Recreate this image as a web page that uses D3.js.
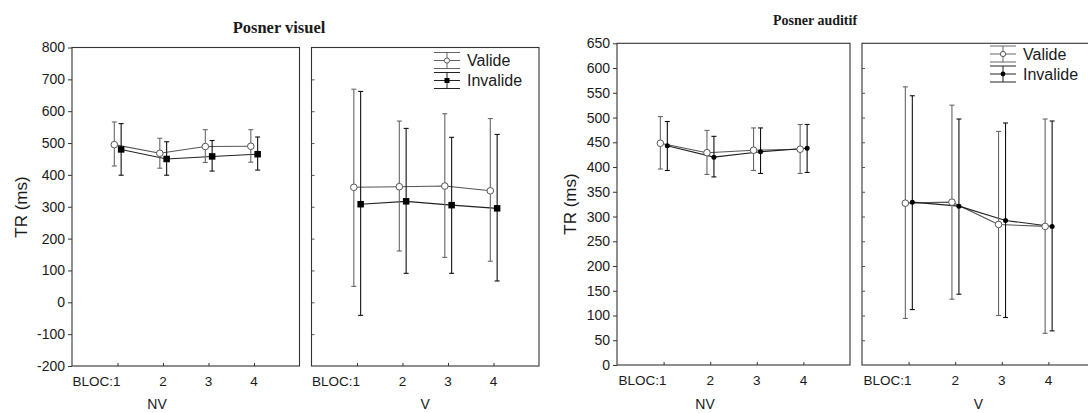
<!DOCTYPE html>
<html><head><meta charset="utf-8">
<script src="https://cdn.jsdelivr.net/npm/d3@7"></script>
<style>
html,body{margin:0;padding:0;background:#fff;}
svg{display:block;}
text{font-family:"Liberation Sans",Arial,sans-serif;fill:#1a1a1a;}
.title{font-family:"Liberation Serif","Times New Roman",serif;font-weight:bold;}
</style></head>
<body>
<svg id="c" width="1088" height="413"></svg>
<script>
// ---------- DATA ----------
const blocs = ["BLOC:1", "2", "3", "4"];
const seriesNames = ["Valide", "Invalide"];
const yTicksVisuel = [-200, -100, 0, 100, 200, 300, 400, 500, 600, 700, 800];
const yTicksAuditif = [0, 50, 100, 150, 200, 250, 300, 350, 400, 450, 500, 550, 600, 650];

// Posner visuel - NV
const visNVValide = [495, 468, 489, 490];
const visNVValideLo = [428, 421, 439, 440];
const visNVValideHi = [566, 515, 542, 542];
const visNVInvalide = [480, 450, 458, 465];
const visNVInvalideLo = [399, 399, 412, 415];
const visNVInvalideHi = [561, 504, 508, 519];
// Posner visuel - V
const visVValide = [361, 363, 365, 350];
const visVValideLo = [50, 161, 141, 129];
const visVValideHi = [669, 569, 592, 577];
const visVInvalide = [308, 317, 305, 295];
const visVInvalideLo = [-41, 91, 91, 67];
const visVInvalideHi = [662, 546, 518, 527];
// Posner auditif - NV
const audNVValide = [448, 429, 434, 436];
const audNVValideLo = [396, 385, 393, 387];
const audNVValideHi = [502, 474, 479, 486];
const audNVInvalide = [443, 420, 431, 438];
const audNVInvalideLo = [393, 380, 387, 389];
const audNVInvalideHi = [492, 462, 479, 486];
// Posner auditif - V
const audVValide = [327, 329, 284, 280];
const audVValideLo = [94, 133, 100, 64];
const audVValideHi = [562, 525, 472, 497];
const audVInvalide = [329, 321, 292, 280];
const audVInvalideLo = [112, 143, 96, 69];
const audVInvalideHi = [544, 497, 489, 493];

// ---------- DRAW ----------
const svg = d3.select("#c");

function mk(vals, lo, hi) { return vals.map((v, i) => ({i: i + 1, v, lo: lo[i], hi: hi[i]})); }

function panel(opt) {
  const g = svg.append("g");
  const x = d3.scaleLinear().domain([0, 5]).range([opt.x0, opt.x1]);
  const y = opt.y;
  const [yb, yt] = y.range();
  g.append("rect").attr("x", opt.x0).attr("y", yt).attr("width", opt.x1 - opt.x0).attr("height", yb - yt)
    .attr("fill", "none").attr("stroke", "#333").attr("stroke-width", 1.1);
  if (opt.first) {
    const ax = g.append("g").attr("transform", `translate(${opt.x0},0)`)
      .call(d3.axisLeft(y).tickValues(opt.yTicks).tickSize(4).tickPadding(3).tickFormat(d => String(d)));
    ax.select(".domain").remove();
    ax.selectAll("line").attr("stroke", "#333");
    ax.selectAll("text").attr("font-size", 14).attr("fill", "#1a1a1a").attr("font-family", "Liberation Sans, Arial, sans-serif");
  } else {
    const ax = g.append("g").attr("transform", `translate(${opt.x0},0)`)
      .call(d3.axisRight(y).tickValues(opt.yTicks.slice(1, -1)).tickSize(3).tickFormat(""));
    ax.select(".domain").remove();
    ax.selectAll("line").attr("stroke", "#555");
  }
  const xa = g.append("g").attr("transform", `translate(0,${yb})`)
    .call(d3.axisTop(x).tickValues([1, 2, 3, 4]).tickSize(3).tickFormat(""));
  xa.select(".domain").remove();
  xa.selectAll("line").attr("stroke", "#333");
  g.selectAll("text.xl").data(blocs).enter().append("text").attr("class", "xl")
    .attr("x", (d, i) => i === 0 ? x(1) + 3 : x(i + 1))
    .attr("y", yb + 20)
    .attr("text-anchor", (d, i) => i === 0 ? "end" : "middle")
    .attr("font-size", 13.5)
    .text(d => d);
  g.append("text").attr("x", opt.lblX != null ? opt.lblX : x(2.5)).attr("y", 409)
    .attr("text-anchor", "middle").attr("font-size", 14).text(opt.label);

  const series = [
    {d: opt.valide, off: -0.07, col: "#666", lineCol: "#555", type: "circle"},
    {d: opt.invalide, off: 0.08, col: "#111", lineCol: "#222", type: opt.invType}
  ];
  series.forEach(s => {
    const line = d3.line().x(p => x(p.i + s.off)).y(p => y(p.v));
    g.append("path").attr("d", line(s.d)).attr("fill", "none").attr("stroke", s.lineCol).attr("stroke-width", 1.1);
  });
  series.forEach(s => {
    const eb = g.append("g");
    s.d.forEach(p => {
      const cx = x(p.i + s.off);
      eb.append("line").attr("x1", cx).attr("x2", cx).attr("y1", y(p.hi)).attr("y2", y(p.lo)).attr("stroke", s.col).attr("stroke-width", 1.1);
      [p.hi, p.lo].forEach(v => eb.append("line").attr("x1", cx - 2.5).attr("x2", cx + 2.5).attr("y1", y(v)).attr("y2", y(v)).attr("stroke", s.col).attr("stroke-width", 1.1));
    });
  });
  series.forEach(s => {
    s.d.forEach(p => drawMarker(g, s.type, x(p.i + s.off), y(p.v), opt.msize));
  });
  if (opt.legend) legend(g, opt.legend, opt.invType);
}

function drawMarker(g, type, cx, cy, ms) {
  if (type === "circle") {
    g.append("circle").attr("cx", cx).attr("cy", cy).attr("r", ms.circle).attr("fill", "#fff").attr("stroke", "#555").attr("stroke-width", 1);
  } else if (type === "square") {
    g.append("rect").attr("x", cx - ms.square / 2).attr("y", cy - ms.square / 2).attr("width", ms.square).attr("height", ms.square).attr("fill", "#000");
  } else {
    g.append("circle").attr("cx", cx).attr("cy", cy).attr("r", ms.dot).attr("fill", "#000");
  }
}

function legend(g, L, invType) {
  seriesNames.forEach((name, k) => {
    const cy = L.y + k * 20, x0 = L.x, w = 26, cx = x0 + w / 2;
    const col = k === 0 ? "#666" : "#222";
    [-8, 0, 8].forEach(dy => g.append("line").attr("x1", x0).attr("x2", x0 + w).attr("y1", cy + dy).attr("y2", cy + dy).attr("stroke", col).attr("stroke-width", 1));
    g.append("line").attr("x1", cx).attr("x2", cx).attr("y1", cy - 8).attr("y2", cy + 8).attr("stroke", col).attr("stroke-width", 1);
    const small = {circle: 2.6, square: 5, dot: 2.4};
    drawMarker(g, k === 0 ? "circle" : invType, cx, cy, small);
    g.append("text").attr("x", x0 + w + 7).attr("y", cy).attr("dy", "0.35em").attr("font-size", 16).text(name);
  });
}

// --- Posner visuel ---
const yVis = d3.scaleLinear().domain([-200, 800]).range([366, 47.5]);
const msVis = {circle: 3.3, square: 6.5, dot: 3};
panel({x0: 72, x1: 299.5, y: yVis, yTicks: yTicksVisuel, first: true, label: "NV", lblX: 157,
  valide: mk(visNVValide, visNVValideLo, visNVValideHi), invalide: mk(visNVInvalide, visNVInvalideLo, visNVInvalideHi), invType: "square", msize: msVis});
panel({x0: 311.5, x1: 539, y: yVis, yTicks: yTicksVisuel, first: false, label: "V",
  valide: mk(visVValide, visVValideLo, visVValideHi), invalide: mk(visVInvalide, visVInvalideLo, visVInvalideHi), invType: "square", msize: msVis,
  legend: {x: 434, y: 60.5}});
svg.append("text").attr("class", "title").attr("x", 279).attr("y", 33).attr("text-anchor", "middle").attr("font-size", 16.5).text("Posner visuel");
svg.append("text").attr("transform", "translate(27,207) rotate(-90)").attr("text-anchor", "middle").attr("font-size", 17).text("TR (ms)");

// --- Posner auditif ---
const yAud = d3.scaleLinear().domain([0, 650]).range([365, 43.3]);
const msAud = {circle: 3.3, square: 5, dot: 2.5};
panel({x0: 617, x1: 850, y: yAud, yTicks: yTicksAuditif, first: true, label: "NV", lblX: 705,
  valide: mk(audNVValide, audNVValideLo, audNVValideHi), invalide: mk(audNVInvalide, audNVInvalideLo, audNVInvalideHi), invType: "dot", msize: msAud});
panel({x0: 862, x1: 1095, y: yAud, yTicks: yTicksAuditif, first: false, label: "V",
  valide: mk(audVValide, audVValideLo, audVValideHi), invalide: mk(audVInvalide, audVInvalideLo, audVInvalideHi), invType: "dot", msize: msAud,
  legend: {x: 990, y: 54}});
svg.append("text").attr("class", "title").attr("x", 815).attr("y", 25).attr("text-anchor", "middle").attr("font-size", 14).text("Posner auditif");
svg.append("text").attr("transform", "translate(576,204) rotate(-90)").attr("text-anchor", "middle").attr("font-size", 17).text("TR (ms)");
</script>
</body></html>
